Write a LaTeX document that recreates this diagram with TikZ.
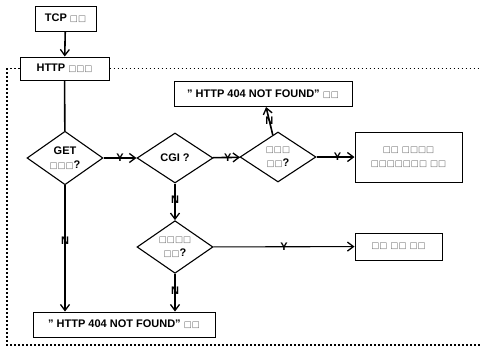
\documentclass[tikz,border=0pt]{standalone}
\usepackage{fontspec}
\setmainfont{Liberation Sans}
\newfontfamily\boxfont{DejaVu Sans}
\usetikzlibrary{shapes.geometric, arrows.meta, positioning}
% empty glyph boxes as printed in the picture
\newcommand{\bx}{{\boxfont\mdseries\fontsize{8.5}{9}\selectfont\color{black!60}□}}

\begin{document}
\begin{tikzpicture}[
		x=1pt, y=-1pt,
		every node/.style={font=\bfseries\fontsize{11}{14}\selectfont},
		stepbox/.style={
				draw,
				line width=1pt,
				inner sep=0pt,
				align=center
			},
		query/.style={
				draw,
				diamond,
				line width=1.1pt,
				inner sep=0pt,
				minimum width=76pt, % Width of the diamond
				minimum height=50pt, % Height of the diamond
				align=center
			},
		flow/.style={-{Straight Barb[length=6pt, width=9pt, line width=1.3pt]}, line width=1.6pt},
		tag/.style={inner sep=1pt, font=\bfseries\fontsize{11}{12}\selectfont}
	]
	\useasboundingbox (0,0) rectangle (480,351);

	\node[stepbox, minimum width=61pt, minimum height=25pt] (tcp) at (65.5,18.5) {TCP \bx\bx};
	\node[stepbox, minimum width=89pt, minimum height=23pt] (http) at (64.5,68.5) {HTTP \bx\bx\bx};
	\node[query] (get) at (65,158) {GET\\\bx\bx\bx?};
	\node[query] (cgi) at (175,158) {CGI ?};
	\node[query] (perm) at (278,157) {\bx\bx\bx\\\bx\bx?};
	\node[stepbox, minimum width=178pt, minimum height=25pt] (nfa) at (263,94) {" HTTP 404 NOT FOUND" \bx\bx};
	\node[stepbox, minimum width=107pt, minimum height=50pt] (run) at (408.5,157) {\bx\bx\ \bx\bx\bx\bx\\\bx\bx\bx\bx\bx\bx\bx\ \bx\bx};
	\node[query] (file) at (175,247) {\bx\bx\bx\bx\\\bx\bx?};
	\node[stepbox, minimum width=87pt, minimum height=27pt] (send) at (398.5,246.5) {\bx\bx\ \bx\bx\ \bx\bx};
	\node[stepbox, minimum width=182pt, minimum height=25pt] (nfb) at (124,324.5) {" HTTP 404 NOT FOUND" \bx\bx};

	% dotted frame
	\draw[line width=1.5pt, dash pattern=on 1.5pt off 2.5pt] (http.west) -- (7,68.5) -- (7,345) -- (480,345);
	\draw[line width=1.5pt, dash pattern=on 1.5pt off 2.5pt] (http.east) -- (480,68.5);

	\draw[flow] (tcp) -- (http);
	\draw[line width=1.6pt] (http) -- (get);
	\draw[flow] (get) -- node[tag]{Y} (cgi);
	\draw[flow] (cgi) -- node[tag, pos=0.55]{Y} (perm);
	\draw[flow] (perm) -- node[tag, pos=0.55]{Y} (run);
	\draw[flow] (perm) -- node[tag]{N} (nfa);
	\draw[flow] (cgi) -- node[tag, pos=0.45]{N} (file);
	\draw[flow, line width=1.1pt] (file) -- node[tag]{Y} (send);
	\draw[flow] (file) -- node[tag, pos=0.45]{N} (file |- nfb.north);
	\draw[flow] (get) -- node[tag, pos=0.44]{N} (get |- nfb.north);
\end{tikzpicture}
\end{document}
